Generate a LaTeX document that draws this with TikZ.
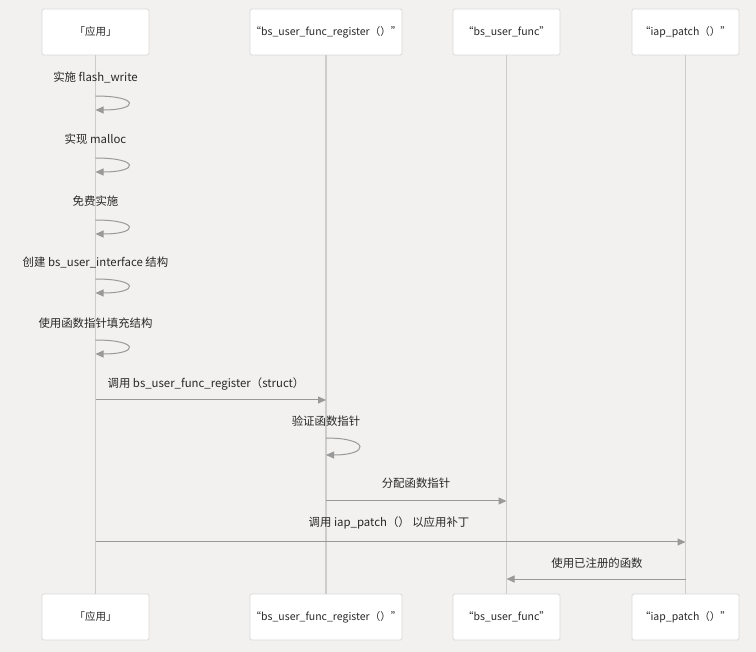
\documentclass[tikz,border=0pt]{standalone}
\usepackage{fontspec}
\setmainfont{Noto Sans CJK SC}
\usetikzlibrary{calc, positioning}
\usetikzlibrary{arrows.meta}

\definecolor{bgcol}{RGB}{242,241,239}
\definecolor{boxline}{RGB}{218,218,218}
\definecolor{lifecol}{RGB}{204,204,204}
\definecolor{msgcol}{RGB}{153,153,153}
\definecolor{txtcol}{RGB}{40,40,40}

\tikzset{
  actor/.style={draw=boxline, fill=white, rounded corners=1.5pt, line width=0.8pt,
    minimum width=107pt, minimum height=46pt, inner sep=0pt,
    font=\fontsize{10.5}{12}\selectfont, text=txtcol},
  lifeline/.style={draw=lifecol, line width=1.4pt},
  msg/.style={draw=msgcol, line width=1pt, -{Triangle[length=8pt,width=7pt]}},
  msglabel/.style={font=\fontsize{11.4}{13}\selectfont, text=txtcol, inner sep=0pt},
}

\begin{document}
\begin{tikzpicture}[x=1pt, y=-1pt]
\fill[bgcol] (0,0) rectangle (756,652);
\useasboundingbox (0,0) rectangle (756,652);

\def\ya{32}
\def\yb{617}

% actors, top and bottom
\node[actor] (app) at (95.5,\ya) {「应用」};
\node[actor, minimum width=152pt] (reg) at (326,\ya) {“bs\_user\_func\_register（）”};
\node[actor] (func) at (506.5,\ya) {“bs\_user\_func”};
\node[actor] (iap) at (685.5,\ya) {“iap\_patch（）”};

\node[actor] (appB) at (95.5,\yb) {「应用」};
\node[actor, minimum width=152pt] (regB) at (326,\yb) {“bs\_user\_func\_register（）”};
\node[actor] (funcB) at (506.5,\yb) {“bs\_user\_func”};
\node[actor] (iapB) at (685.5,\yb) {“iap\_patch（）”};

% lifelines
\draw[lifeline] (app) -- (appB);
\draw[lifeline] (reg) -- (regB);
\draw[lifeline] (func) -- (funcB);
\draw[lifeline] (iap) -- (iapB);

% self calls on the app
\node[msglabel] (l1) at (95.5,77) {实施 flash\_write};
\coordinate (s1a) at (95.5,96);
\coordinate (s1b) at (95.5,110);
\draw[msg] (s1a) .. controls ($(s1a)+(44,0)$) and ($(s1b)+(44,0)$) .. (s1b);

\node[msglabel] (l2) at (95.5,139) {实现 malloc};
\coordinate (s2a) at (95.5,158);
\coordinate (s2b) at (95.5,172);
\draw[msg] (s2a) .. controls ($(s2a)+(44,0)$) and ($(s2b)+(44,0)$) .. (s2b);

\node[msglabel] (l3) at (95.5,201) {免费实施};
\coordinate (s3a) at (95.5,220);
\coordinate (s3b) at (95.5,234);
\draw[msg] (s3a) .. controls ($(s3a)+(44,0)$) and ($(s3b)+(44,0)$) .. (s3b);

\node[msglabel] (l4) at (95.5,263) {创建 bs\_user\_interface 结构};
\coordinate (s4a) at (95.5,279);
\coordinate (s4b) at (95.5,293);
\draw[msg] (s4a) .. controls ($(s4a)+(44,0)$) and ($(s4b)+(44,0)$) .. (s4b);

\node[msglabel] (l5) at (95.5,323) {使用函数指针填充结构};
\coordinate (s5a) at (95.5,340);
\coordinate (s5b) at (95.5,354);
\draw[msg] (s5a) .. controls ($(s5a)+(44,0)$) and ($(s5b)+(44,0)$) .. (s5b);

% register call
\coordinate (m1a) at (95.5,400);
\coordinate (m1b) at (326,400);
\node[msglabel] (l6) at (206,384) {调用 bs\_user\_func\_register（struct）};
\draw[msg] (m1a) -- (m1b);

\node[msglabel] (l7) at (326,421) {验证函数指针};
\coordinate (s6a) at (326,438);
\coordinate (s6b) at (326,455);
\draw[msg] (s6a) .. controls ($(s6a)+(44,0)$) and ($(s6b)+(44,0)$) .. (s6b);

\coordinate (m2a) at (326,501);
\coordinate (m2b) at (506.5,501);
\node[msglabel] (l8) at (416,483) {分配函数指针};
\draw[msg] (m2a) -- (m2b);

\coordinate (m3a) at (95.5,542);
\coordinate (m3b) at (685.5,542);
\node[msglabel] (l9) at (389,523) {调用 iap\_patch（） 以应用补丁};
\draw[msg] (m3a) -- (m3b);

\coordinate (m4a) at (685.5,579);
\coordinate (m4b) at (506.5,579);
\node[msglabel] (l10) at (597,563) {使用已注册的函数};
\draw[msg] (m4a) -- (m4b);
\end{tikzpicture}
\end{document}
